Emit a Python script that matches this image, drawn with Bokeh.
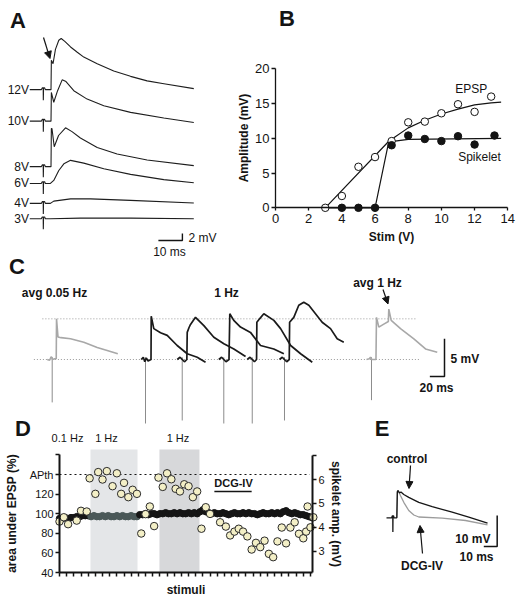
from bokeh.plotting import figure
from bokeh.models import Range1d, LinearAxis, FixedTicker, Label, Arrow, NormalHead
from bokeh.core.properties import value
from bokeh.embed import file_html
from bokeh.resources import INLINE

FONT = "Liberation Sans"

# ======================= DATA =======================
# ---- Panel A : EPSPs at increasing stimulus strength (ms, mV re baseline)
A_labels = ["12V", "10V", "8V", "6V", "4V", "3V"]
A_shift_mV = [36.9, 27.9, 14.9, 10.1, 4.4, 0.0]
A_pre_t = [-5.6, -0.8, -0.4, 0.0, 0.05, 0.15, 0.6, 0.9]
A_pre_v = [0.0, 0.0, 0.5, 0.5, -3.0, 0.5, 0.5, 0.0]
A_12V_t = [3.25, 3.4, 4.1, 5.1, 6.5, 7.5, 9.0, 11.4, 14.2, 16.9, 22.5, 29.4, 36.4, 43.3, 50.3, 62.75]
A_12V_v = [0.0, 8.4, 7.4, 11.5, 14.1, 14.6, 13.8, 12.2, 10.7, 9.3, 7.4, 5.3, 3.8, 2.5, 1.7, 0.3]
A_10V_t = [3.25, 3.4, 4.4, 6.0, 7.9, 9.5, 12.75, 18.3, 25.25, 36.4, 50.25, 62.75]
A_10V_v = [0.0, 8.2, 5.4, 8.7, 11.8, 11.3, 8.7, 6.3, 4.4, 2.5, 0.9, -0.4]
A_8V_t = [3.25, 3.4, 3.65, 4.6, 6.4, 9.3, 12.0, 15.5, 22.5, 30.8, 43.3, 62.75]
A_8V_v = [0.0, 10.9, 10.9, 5.7, 8.9, 11.1, 10.0, 8.2, 5.5, 3.6, 1.9, 0.3]
A_6V_t = [3.0, 4.4, 6.5, 8.6, 11.4, 16.9, 25.25, 36.4, 50.25, 62.75]
A_6V_v = [0.0, 0.86, 3.7, 5.6, 6.6, 5.8, 4.2, 2.6, 1.1, 0.2]
A_4V_t = [3.0, 4.4, 11.4, 19.7, 36.4, 62.75]
A_4V_v = [0.0, 0.66, 1.3, 1.3, 0.86, 0.1]
A_3V_t = [3.0, 15.5, 36.4, 62.75]
A_3V_v = [0.0, 0.2, 0.2, 0.0]
A_scale_ms, A_scale_mV = 10, 2

# ---- Panel B : input-output curve
B_stim = [3, 4, 5, 6, 7, 8, 9, 10, 11, 12, 13]
B_epsp = [0.0, 1.7, 5.9, 7.3, 9.6, 12.3, 12.4, 13.6, 14.9, 13.8, 16.0]
B_spk_stim = [4, 5, 6, 7, 8, 9, 10, 11, 12, 13.2]
B_spk = [0.0, 0.0, 0.0, 9.0, 10.4, 9.9, 9.6, 10.3, 9.1, 10.4]
B_fit_epsp_x = [3, 6.8, 7.2, 8, 9, 10, 11, 12, 13, 13.6]
B_fit_epsp_y = [0.0, 9.5, 10.2, 11.5, 12.6, 13.5, 14.2, 14.8, 15.1, 15.2]
B_fit_spk_x = [3, 6, 6.8, 7.2, 8, 13.6]
B_fit_spk_y = [0.0, 0.0, 9.2, 9.6, 9.85, 10.0]
B_xticks = [0, 2, 4, 6, 8, 10, 12, 14]
B_yticks = [0, 5, 10, 15, 20]

# ---- Panel C : responses at 0.05 Hz and 1 Hz (ms re stimulus, mV)
C_stim_ms = [0.0, 127.3, 177.4, 234.1, 272.9, 316.9, 435.6]
C_art_mV = [-5.7, -8.5, -8.1, -8.5, -8.5, -8.1, -5.4]
C_avg005_t = [-6.8, -3.5, -1.5, -0.3, 0.4, 3.5, 5.5, 5.9, 7.9, 12.0, 25.0, 43.1, 61.4, 75.0, 89.5]
C_avg005_v = [0.0, -0.1, 0.35, 0.25, 0.0, 0.1, 0.1, 5.4, 3.0, 2.9, 2.75, 2.3, 1.6, 1.2, 0.76]
C_hz1_t = [
    [-5.9, -3.0, -1.0, 1.0, 3.5, 7.5, 7.8, 11.3, 20.5, 29.6, 43.2, 56.9, 70.5, 81.9],
    [-6.8, -3.0, 0.0, 3.0, 6.3, 6.8, 9.3, 11.3, 18.1, 29.5, 43.1, 56.8, 70.4, 86.4],
    [-6.8, -3.0, 0.0, 3.0, 7.1, 8.2, 13.6, 22.8, 36.4, 50.1, 68.2, 81.9],
    [-6.8, -3.0, 0.0, 3.0, 5.9, 6.3, 10.0, 15.8, 29.5, 38.7, 52.4, 66.0, 81.9],
    [-6.8, -3.0, 0.0, 3.0, 6.5, 7.0, 12.7, 19.5, 26.3, 33.2, 42.3, 51.4, 62.8, 71.9, 80.9],
]
C_hz1_v = [
    [0.0, 0.3, -0.3, 0.2, -0.2, 0.0, 5.75, 4.1, 3.55, 3.2, 1.86, 0.76, 0.3, -0.36],
    [0.0, 0.3, 0.0, -0.3, 0.0, 3.6, 4.25, 4.65, 5.6, 4.5, 2.96, 2.1, 1.4, 0.4],
    [0.0, 0.3, 0.0, -0.3, 0.0, 6.07, 5.2, 4.3, 3.6, 1.86, 1.4, 0.76],
    [0.0, 0.3, 0.0, -0.3, 0.0, 4.95, 5.4, 6.07, 5.2, 4.1, 1.86, 0.76, -0.36],
    [0.0, 0.3, 0.0, -0.3, 0.0, 4.95, 5.6, 7.2, 7.6, 7.2, 6.07, 4.95, 4.1, 2.75, 2.3],
]
C_avg1_t = [-6.8, -3.0, -1.4, 0.4, 6.1, 6.8, 10.0, 16.8, 23.0, 23.6, 26.9, 39.6, 57.8, 73.7, 89.7]
C_avg1_v = [0.0, 0.1, 0.3, 0.0, 0.0, 5.6, 4.3, 4.7, 5.05, 6.7, 5.2, 4.1, 2.75, 1.4, 0.97]
C_ref_mV = [0.0, 5.4]
C_scale_ms, C_scale_mV = 20, 5

# ---- Panel D : area under EPSP (%) and spikelet amplitude (mV) vs stimuli
D_pre_stim = [0, 2, 4, 6, 8, 10, 12, 14, 16, 18, 20]
D_pre_area = [95, 95, 96, 95, 96, 96, 97, 97, 98, 98, 98]
D_1hz_stim = [22, 24, 26, 28, 30, 32, 34, 36, 38, 40, 42, 44, 46, 48, 50, 52, 54]
D_1hz_area = [97, 98, 97, 97, 98, 97, 98, 97, 97, 98, 97, 98, 97, 97, 98, 97, 97]
D_post_stim = list(range(56, 177, 2))
D_post_area = [99, 99, 100, 99, 100, 100, 99, 100,
               100, 101, 100, 100, 101, 100, 101, 100, 100, 101,
               100, 101, 100, 102, 104, 102, 101, 100, 101, 100,
               100, 101, 100, 99, 100, 101, 100, 100, 101, 100,
               101, 100, 100, 99, 100, 101, 100, 100, 101, 100,
               101, 100, 102, 103, 101, 100, 101, 100, 99, 99,
               98, 97, 96]
D_spk_stim = [0, 3, 6, 12, 15, 19, 21, 25, 27, 30, 33, 37, 40, 43, 45, 48, 51, 54, 57, 60,
              63, 66, 69, 72, 75, 78, 81, 84, 87, 90, 93, 96, 99, 102, 105, 112, 116, 119, 122, 125,
              128, 131, 134, 137, 140, 143, 146, 149, 152, 155, 158, 161, 164, 167, 170, 172, 173, 175, 177]
D_spk_mV = [4.24, 4.42, 4.13, 4.28, 4.69, 4.66, 6.05, 5.40, 6.31, 6.00,
            6.35, 5.72, 6.26, 5.40, 5.86, 5.26, 5.57, 5.40, 3.74, 4.55,
            4.87, 4.05, 6.08, 5.69, 6.26, 6.01, 5.61, 5.50, 5.80, 5.72,
            5.26, 5.50, 3.94, 4.84, 4.56, 4.21, 4.03, 3.66, 3.82, 3.94,
            3.82, 3.62, 3.07, 3.35, 3.17, 3.44, 2.89, 2.75, 3.41, 3.99,
            3.33, 3.99, 4.21, 3.73, 3.54, 3.82, 4.87, 4.00, 4.42]
D_1hz_left = [21.6, 69.7]
D_1hz_right = [54.4, 97.6]
D_1hz_shade = ["#e4e6e8", "#d7d8da"]
D_dcg = [108, 134]
D_dcg_level = 122.6
D_apth = 140
D_left_ticks = [40, 60, 80, 100, 120, 140, 160]
D_right_ticks = [3, 4, 5, 6, 7]
D_x_ticks = list(range(0, 180, 5))

# ---- Panel E : control vs DCG-IV (ms, mV)
E_ctrl_t = [-4.7, -0.8, -0.4, 0.0, 0.05, 0.15, 0.6, 0.9, 3.0, 3.4, 4.0, 5.0, 6.1, 8.2, 11.9, 19.4, 29.4, 44.3, 56.7, 70.7]
E_ctrl_v = [0.0, 0.0, 0.6, 0.6, -4.6, 0.6, 0.6, 0.0, 0.0, 8.5, 8.8, 8.0, 8.3, 7.5, 6.6, 5.0, 3.6, 1.8, 0.2, -1.7]
E_dcg_t = [3.0, 3.4, 4.5, 5.7, 8.2, 11.9, 15.7, 19.4, 36.9, 54.3, 70.7]
E_dcg_v = [0.0, 8.3, 8.3, 7.2, 5.0, 2.35, 0.9, 0.26, -0.13, -0.87, -2.3]
E_scale_ms, E_scale_mV = 10, 10

# ======================= LAYOUT =======================
X0, X1, Y0, Y1 = 0, 521, 0, 599


def xmap(px0, ppu, v0=0.0):
    return Range1d(v0 + (X0 - px0) / ppu, v0 + (X1 - px0) / ppu)


def ymap(py0, ppu, v0=0.0):
    return Range1d(v0 + (py0 - Y1) / ppu, v0 + (py0 - Y0) / ppu)


p = figure(width=X1 - X0, height=Y1 - Y0, x_range=Range1d(X0, X1), y_range=Range1d(Y1, Y0),
           x_axis_type=None, y_axis_type=None, toolbar_location=None, output_backend="svg",
           title=None, min_border=0, outline_line_color=None)
p.min_border_left = p.min_border_right = p.min_border_top = p.min_border_bottom = 0
p.background_fill_color = "white"
p.border_fill_color = "white"

p.extra_x_ranges = {"Ax": xmap(42.7, 2.4), "Bx": xmap(275, 16.59), "Cx": xmap(51.7, 0.733),
                    "Dx": xmap(59, 1.434), "Ex": xmap(392.3, 1.34)}
p.extra_y_ranges = {"Ay": ymap(218.3, 3.5), "By": ymap(207.3, 6.95), "Cy": ymap(359, 7.53),
                    "Dy": ymap(572, 0.98, 40), "Dr": ymap(479, 23.9, 6), "Ey": ymap(517.3, 3.1)}

INK = "#141414"


def txt(x, y, s, size=12, bold=False, align="center", base="middle", angle=0.0):
    p.add_layout(Label(x=x, y=y, text=s, text_font=FONT, text_font_size=f"{size}px",
                       text_font_style="bold" if bold else "normal", text_align=align,
                       text_baseline=base, angle=angle, text_color=INK))


def arrow(x0, y0, x1, y1):
    p.add_layout(Arrow(end=NormalHead(size=7, fill_color=INK, line_color=INK, line_width=1),
                       x_start=x0, y_start=y0, x_end=x1, y_end=y1, line_color=INK, line_width=1.2))


def style_axis(ax, size, lw):
    ax.axis_line_width = lw
    ax.axis_line_color = INK
    ax.major_tick_line_width = lw
    ax.major_tick_line_color = INK
    ax.major_tick_in = 0
    ax.major_tick_out = 4
    ax.minor_tick_line_color = None
    ax.major_label_text_font = FONT
    ax.major_label_text_font_size = f"{size}px"
    ax.major_label_text_color = INK
    ax.axis_label_text_font = FONT
    ax.axis_label_text_font_style = "bold"
    ax.axis_label_text_font_size = "12px"
    ax.axis_label_text_color = INK


# ---------------- Panel A ----------------
A_traces = [(A_12V_t, A_12V_v), (A_10V_t, A_10V_v), (A_8V_t, A_8V_v),
            (A_6V_t, A_6V_v), (A_4V_t, A_4V_v), (A_3V_t, A_3V_v)]
for (tt, vv), sh in zip(A_traces, A_shift_mV):
    t_all = A_pre_t + tt
    v_all = [sh + v for v in A_pre_v + vv]
    p.line(t_all, v_all, x_range_name="Ax", y_range_name="Ay", line_color="#1e1e1e", line_width=1.1)
p.text(x=[-5.9] * len(A_labels), y=A_shift_mV, text=A_labels, x_range_name="Ax", y_range_name="Ay",
       text_font=value(FONT), text_font_size="12px", text_align="right", text_baseline="middle",
       text_color=INK)
a_t1, a_v0 = 58.0, -6.2
p.line([a_t1 - A_scale_ms, a_t1, a_t1], [a_v0, a_v0, a_v0 + A_scale_mV], x_range_name="Ax",
       y_range_name="Ay", line_color=INK, line_width=1.4)
txt(188, 237.5, "2 mV", 12, False, "left")
txt(169, 251.5, "10 ms", 12, False)
arrow(43, 37, 49.5, 58)
txt(17.5, 20, "A", 22, True)

# ---------------- Panel B ----------------
p.line(B_fit_epsp_x, B_fit_epsp_y, x_range_name="Bx", y_range_name="By", line_color=INK, line_width=1.2)
p.line(B_fit_spk_x, B_fit_spk_y, x_range_name="Bx", y_range_name="By", line_color=INK, line_width=1.2)
p.scatter(B_stim, B_epsp, x_range_name="Bx", y_range_name="By", size=7.5, fill_color="white",
          line_color=INK, line_width=1)
p.scatter(B_spk_stim, B_spk, x_range_name="Bx", y_range_name="By", size=7.5, fill_color=INK,
          line_color=INK, line_width=1)
bx = LinearAxis(x_range_name="Bx", y_range_name="By", fixed_location=0, bounds=(0, 14),
                ticker=FixedTicker(ticks=B_xticks), axis_label="Stim (V)")
style_axis(bx, 13, 1.3)
bx.major_tick_out = 3
bx.major_label_standoff = 3
bx.axis_label_standoff = 4
p.add_layout(bx, "below")
by = LinearAxis(x_range_name="Bx", y_range_name="By", fixed_location=0, bounds=(0, 20),
                ticker=FixedTicker(ticks=B_yticks), axis_label="Amplitude (mV)")
style_axis(by, 13, 1.3)
by.major_label_standoff = 2
by.axis_label_standoff = 1
p.add_layout(by, "left")
txt(470.7, 88.5, "EPSP", 12)
txt(479, 156, "Spikelet", 12)
txt(286.5, 18, "B", 22, True)

# ---------------- Panel C ----------------
for lv, (ta, tb) in zip(C_ref_mV, [(-25, 502), (-13.4, 498)]):
    p.line([ta, tb], [lv, lv], x_range_name="Cx", y_range_name="Cy", line_color="#9a9a9a",
           line_width=1, line_dash="1 2")
for s, d in zip(C_stim_ms, C_art_mV):
    p.line([s, s], [0.3, d], x_range_name="Cx", y_range_name="Cy", line_color="#8c8c8c", line_width=1)
p.line([C_stim_ms[0] + t for t in C_avg005_t], C_avg005_v, x_range_name="Cx", y_range_name="Cy",
       line_color="#a8a8a8", line_width=1.6)
for s, tt, vv in zip(C_stim_ms[1:6], C_hz1_t, C_hz1_v):
    p.line([s + t for t in tt], vv, x_range_name="Cx", y_range_name="Cy", line_color="#1a1a1a",
           line_width=1.7)
p.line([C_stim_ms[6] + t for t in C_avg1_t], C_avg1_v, x_range_name="Cx", y_range_name="Cy",
       line_color="#a8a8a8", line_width=1.6)
c_t1, c_v0 = 535.2, -2.26
p.line([c_t1 - C_scale_ms, c_t1, c_t1], [c_v0, c_v0, c_v0 + C_scale_mV], x_range_name="Cx",
       y_range_name="Cy", line_color=INK, line_width=1.5)
txt(450, 358.5, "5 mV", 12, True, "left")
txt(436, 387.5, "20 ms", 12, True)
txt(54, 292, "avg 0.05 Hz", 12, True)
txt(226, 292, "1 Hz", 12, True)
txt(377, 282, "avg 1 Hz", 12, True)
arrow(382.5, 289, 387.5, 303.5)
txt(16.5, 266, "C", 22, True)

# ---------------- Panel D ----------------
p.quad(left=D_1hz_left, right=D_1hz_right, bottom=[40, 40], top=[165.5, 165.5], x_range_name="Dx",
       y_range_name="Dy", fill_color=D_1hz_shade, line_color=None)
p.line([0, 174.5], [D_apth, D_apth], x_range_name="Dx", y_range_name="Dy", line_color=INK,
       line_width=1.2, line_dash="2 3")
p.scatter(D_pre_stim, D_pre_area, x_range_name="Dx", y_range_name="Dy", size=6.5,
          fill_color="#151515", line_color="#151515")
p.scatter(D_1hz_stim, D_1hz_area, x_range_name="Dx", y_range_name="Dy", size=6.5,
          fill_color="#4a5858", line_color="#4a5858")
p.scatter(D_post_stim, D_post_area, x_range_name="Dx", y_range_name="Dy", size=6.5,
          fill_color="#151515", line_color="#151515")
p.scatter(D_spk_stim, D_spk_mV, x_range_name="Dx", y_range_name="Dr", size=7.5,
          fill_color="#f3efc6", line_color="#2a2a2a", line_width=1)
p.line(D_dcg, [D_dcg_level, D_dcg_level], x_range_name="Dx", y_range_name="Dy", line_color=INK,
       line_width=1.6)
# x axis: unlabeled ticks drawn as minor ticks so that no empty labels are produced
dxa = LinearAxis(x_range_name="Dx", y_range_name="Dy", fixed_location=40, bounds=(0, 176.5),
                 ticker=FixedTicker(ticks=[], minor_ticks=D_x_ticks), axis_label="stimuli")
style_axis(dxa, 11, 2)
dxa.minor_tick_line_color = INK
dxa.minor_tick_line_width = 1.5
dxa.minor_tick_in = 0
dxa.minor_tick_out = 4
dxa.major_label_standoff = 0
dxa.axis_label_standoff = 6
p.add_layout(dxa, "below")
dly = LinearAxis(x_range_name="Dx", y_range_name="Dy", fixed_location=0, bounds=(40, 160),
                 ticker=FixedTicker(ticks=D_left_ticks), major_label_overrides={140: "APth", 160: " "},
                 axis_label="area under EPSP (%)")
style_axis(dly, 11, 2)
dly.major_tick_line_width = 1.5
dly.major_label_standoff = 2
dly.axis_label_standoff = 8
p.add_layout(dly, "left")
dry = LinearAxis(x_range_name="Dx", y_range_name="Dr", fixed_location=176.5, bounds=(2.11, 7.0),
                 ticker=FixedTicker(ticks=D_right_ticks), major_label_overrides={7: " "},
                 axis_label="spikelet amp. (mV)")
style_axis(dry, 11, 2)
dry.major_tick_line_width = 1.5
dry.major_label_standoff = 2
dry.axis_label_standoff = 1
p.add_layout(dry, "right")
txt(67, 437.5, "0.1 Hz", 11)
txt(106, 437.5, "1 Hz", 11)
txt(177.5, 437.5, "1 Hz", 11)
txt(233, 482, "DCG-IV", 11, True)
txt(22.5, 428, "D", 22, True)

# ---------------- Panel E ----------------
p.line(E_dcg_t, E_dcg_v, x_range_name="Ex", y_range_name="Ey", line_color="#9c9c9c", line_width=1.3)
p.line(E_ctrl_t, E_ctrl_v, x_range_name="Ex", y_range_name="Ey", line_color="#161616", line_width=1.3)
e_t1, e_v0 = 77.9, -9.26
p.line([e_t1 - E_scale_ms, e_t1, e_t1], [e_v0, e_v0, e_v0 + E_scale_mV], x_range_name="Ex",
       y_range_name="Ey", line_color=INK, line_width=1.5)
txt(490, 538.5, "10 mV", 12, True, "right")
txt(476, 556.5, "10 ms", 12, True)
txt(406.5, 458.5, "control", 12, True)
txt(421.5, 565, "DCG-IV", 12, True)
arrow(410, 465, 408.5, 488)
arrow(422, 553, 419.5, 525)
txt(381.5, 428, "E", 22, True)

open("out.html", "w").write(file_html(p, INLINE))
